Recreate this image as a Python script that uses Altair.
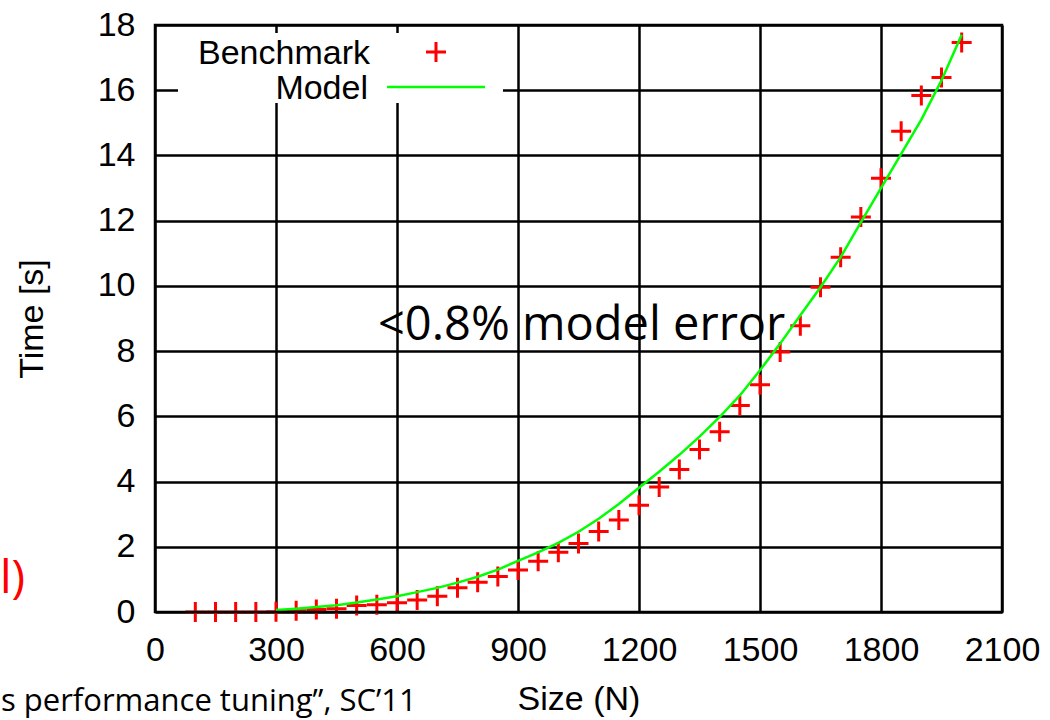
import altair as alt
import pandas as pd

# ---- data ----
bench_sizes = [100, 150, 200, 250, 300, 350, 400, 450, 500, 550, 600, 650, 700, 750,
               800, 850, 900, 950, 1000, 1050, 1100, 1150, 1200, 1250, 1300, 1350,
               1400, 1450, 1500, 1550, 1600, 1650, 1700, 1750, 1800, 1850, 1900, 1950, 2000]
bench_times = [0.0, 0.0, 0.0, 0.0, 0.01, 0.04, 0.08, 0.10, 0.20, 0.22, 0.28, 0.37, 0.48, 0.74,
               0.91, 1.09, 1.29, 1.56, 1.83, 2.10, 2.47, 2.82, 3.27, 3.83, 4.37, 4.98,
               5.53, 6.33, 6.97, 7.97, 8.78, 9.96, 10.88, 12.11, 13.30, 14.74, 15.84, 16.39, 17.46]

model_sizes = [300, 350, 400, 450, 500, 550, 600, 650, 700, 750, 800, 850, 900, 950,
               1000, 1050, 1100, 1150, 1200, 1250, 1300, 1350, 1400, 1450, 1500, 1550,
               1600, 1650, 1700, 1750, 1800, 1850, 1900, 1950, 2000]
model_times = [0.06, 0.10, 0.15, 0.21, 0.29, 0.38, 0.48, 0.61, 0.74, 0.90, 1.08, 1.30, 1.57, 1.83,
               2.12, 2.46, 2.86, 3.31, 3.81, 4.30, 4.82, 5.38, 5.98, 6.64, 7.41, 8.23,
               9.10, 9.96, 10.88, 11.95, 13.00, 14.05, 15.10, 16.30, 17.70]

x_ticks = [0, 300, 600, 900, 1200, 1500, 1800, 2100]
y_ticks = [0, 2, 4, 6, 8, 10, 12, 14, 16, 18]

series_names = ["Benchmark", "Model"]
annotation = "<0.8% model error"
side_text = "l)"
bottom_text = "s performance tuning\u201d, SC\u201911"

W, H = 847, 587
AX_FONT = "Liberation Sans"
SLIDE_FONT = "Open Sans"
PLUS = "M-1,0L1,0M0,-1L0,1"

bench = pd.DataFrame({"size": bench_sizes, "time": bench_times})
model = pd.DataFrame({"size": model_sizes, "time": model_times})
one = pd.DataFrame({"k": [0]})

xs = alt.Scale(domain=[0, 2100], nice=False, zero=False)
ys = alt.Scale(domain=[0, 18], nice=False, zero=False)

x_enc = alt.X("size:Q", scale=xs, title="Size (N)",
              axis=alt.Axis(values=x_ticks, format="d", labelPadding=21, labelFlush=False,
                            labelOverlap=False, titleY=97, titleBaseline="alphabetic"))
y_enc = alt.Y("time:Q", scale=ys, title="Time [s]",
              axis=alt.Axis(values=y_ticks, format="d", labelPadding=20, labelOverlap=False,
                            titleX=-123, titleY=H / 2, titleBaseline="middle"))

pts = alt.Chart(bench).mark_point(shape=PLUS, size=400, filled=False, strokeWidth=3,
                                   color="#ff0000", opacity=1).encode(x=x_enc, y=y_enc)
line = alt.Chart(model).mark_line(color="#00ff00", strokeWidth=2.5).encode(x="size:Q", y="time:Q")

leg_box = alt.Chart(one).mark_rect(fill="white").encode(
    x=alt.value(23), x2=alt.value(348), y=alt.value(8), y2=alt.value(78))
leg_t1 = alt.Chart(one).mark_text(text=series_names[0], align="right", baseline="alphabetic",
                                  font=AX_FONT, fontSize=34, color="black").encode(
    x=alt.value(215), y=alt.value(39))
leg_t2 = alt.Chart(one).mark_text(text=series_names[1], align="right", baseline="alphabetic",
                                  font=AX_FONT, fontSize=34, color="black").encode(
    x=alt.value(213), y=alt.value(74))
leg_plus = alt.Chart(one).mark_point(shape=PLUS, size=400, filled=False, strokeWidth=3,
                                     color="#ff0000", opacity=1).encode(
    x=alt.value(281), y=alt.value(27))
leg_line = alt.Chart(one).mark_rule(color="#00ff00", strokeWidth=2.5).encode(
    x=alt.value(232), x2=alt.value(330), y=alt.value(62))

ann = alt.Chart(one).mark_text(text=annotation, align="left", baseline="alphabetic",
                               font=SLIDE_FONT, fontSize=47, color="black").encode(
    x=alt.value(223), y=alt.value(315))
border = alt.Chart(one).mark_rect(fill="white", fillOpacity=0, stroke="black", strokeWidth=2.5).encode(
    x=alt.value(0), x2=alt.value(W), y=alt.value(0), y2=alt.value(H))
side = alt.Chart(one).mark_text(text=side_text, align="left", baseline="alphabetic",
                                font=SLIDE_FONT, fontSize=46, color="#ff0000").encode(
    x=alt.value(-155), y=alt.value(568))
bottom = alt.Chart(one).mark_text(text=bottom_text, align="left", baseline="alphabetic",
                                  font=SLIDE_FONT, fontSize=31, color="black").encode(
    x=alt.value(-154), y=alt.value(686))

chart = alt.layer(pts, line, leg_box, leg_t1, leg_t2, leg_plus, leg_line, ann, border, side, bottom
).properties(
    width=W, height=H,
    autosize=alt.AutoSizeParams(type="none"),
    padding={"left": 155, "top": 25, "right": 48, "bottom": 108},
    background="white",
).configure_view(strokeWidth=0).configure_axis(
    grid=True, gridColor="black", gridOpacity=1, gridWidth=2.5,
    domain=False, ticks=False, tickSize=0,
    labelFont=AX_FONT, labelFontSize=34, labelColor="black",
    titleFont=AX_FONT, titleFontSize=34, titleColor="black", titleFontWeight="normal",
)

chart.save("out.html", embed_options={"renderer": "svg", "actions": False})
